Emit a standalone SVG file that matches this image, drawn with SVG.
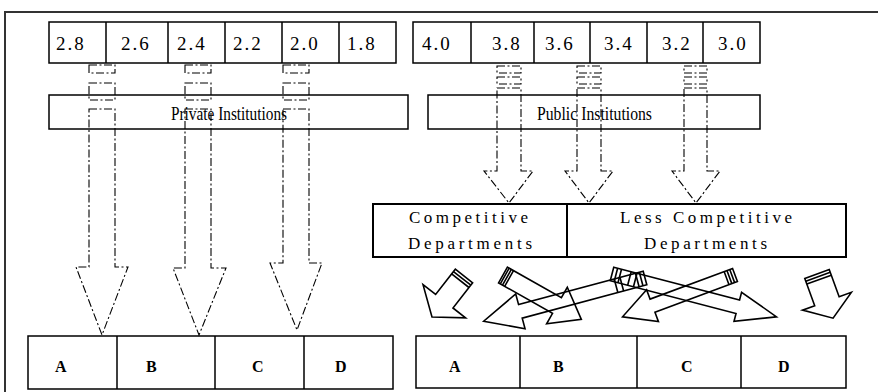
<svg xmlns="http://www.w3.org/2000/svg" width="878" height="392" viewBox="0 0 878 392">
<style>
.box{fill:#fff;stroke:#000;stroke-width:1.5}
.dbox{fill:#fff;stroke:#000;stroke-width:2}
text{font-family:'Liberation Serif','Times New Roman',Times,serif;fill:#000}
.num{font-size:19px;letter-spacing:2px}
.inst{font-size:18px}
.dept{font-size:17px}
.cat{font-size:16px;font-weight:bold}
.dash{fill:none;stroke:#000;stroke-width:1.1;stroke-dasharray:8 2.5 2 2.5}
.blk{fill:none;stroke:#000;stroke-width:1.6;stroke-linejoin:miter}
.stripe{stroke:#000;stroke-width:1.6}
</style>
<rect x="5" y="12" width="890" height="400" fill="none" stroke="#333" stroke-width="2"/>

<g id="private-scale">
<rect class="box" x="49" y="22" width="347" height="41"/>
<path d="M106 22V63M168 22V63M225 22V63M282 22V63M339 22V63" stroke="#000" stroke-width="1.5"/>
<text class="num" x="56" y="50">2.8</text>
<text class="num" x="121" y="50">2.6</text>
<text class="num" x="177" y="50">2.4</text>
<text class="num" x="233" y="50">2.2</text>
<text class="num" x="290" y="50">2.0</text>
<text class="num" x="347" y="50">1.8</text>
</g>

<g id="public-scale">
<rect class="box" x="413" y="22" width="347" height="41"/>
<path d="M471 22V63M534 22V63M590 22V63M647 22V63M703 22V63" stroke="#000" stroke-width="1.5"/>
<text class="num" x="422" y="50">4.0</text>
<text class="num" x="492" y="50">3.8</text>
<text class="num" x="545" y="50">3.6</text>
<text class="num" x="604" y="50">3.4</text>
<text class="num" x="662" y="50">3.2</text>
<text class="num" x="718" y="50">3.0</text>
</g>

<g id="private-institutions">
<rect class="box" x="49" y="95" width="359" height="34"/>
<text class="inst" x="171" y="120" textLength="116" lengthAdjust="spacingAndGlyphs">Private Institutions</text>
</g>

<g id="public-institutions">
<rect class="box" x="428" y="95" width="332" height="34"/>
<text class="inst" x="537" y="120" textLength="115" lengthAdjust="spacingAndGlyphs">Public Institutions</text>
</g>

<g id="competitive">
<rect class="dbox" x="373" y="204" width="194" height="53"/>
<text class="dept" x="409" y="223" textLength="119" lengthAdjust="spacing">Competitive</text>
<text class="dept" x="408" y="249" textLength="124" lengthAdjust="spacing">Departments</text>
</g>

<g id="less-competitive">
<rect class="dbox" x="567" y="204" width="279" height="53"/>
<text class="dept" x="620" y="223" textLength="172" lengthAdjust="spacing">Less Competitive</text>
<text class="dept" x="644" y="249" textLength="123" lengthAdjust="spacing">Departments</text>
</g>

<g id="private-grades">
<rect class="box" x="28" y="336" width="365" height="53"/>
<path d="M117 336V389M215 336V389M304 336V389" stroke="#000" stroke-width="1.5"/>
<text class="cat" x="55" y="372">A</text>
<text class="cat" x="146" y="372">B</text>
<text class="cat" x="252" y="372">C</text>
<text class="cat" x="335" y="372">D</text>
</g>

<g id="public-grades">
<rect class="box" x="416" y="336" width="430" height="52"/>
<path d="M520 336V388M637 336V388M741 336V388" stroke="#000" stroke-width="1.5"/>
<text class="cat" x="449" y="372">A</text>
<text class="cat" x="553" y="372">B</text>
<text class="cat" x="681" y="372">C</text>
<text class="cat" x="778" y="372">D</text>
</g>

<g id="connectors">
<rect class="dash" x="89" y="65" width="26" height="8"/>
<rect class="dash" x="89" y="83" width="26" height="17"/>
<polygon class="dash" points="89,109 115,109 115,267 128,267 102,335 76,267 89,267"/>
<rect class="dash" x="185" y="65" width="26" height="8"/>
<rect class="dash" x="185" y="83" width="26" height="17"/>
<polygon class="dash" points="185,109 211,109 211,268 226,268 199,335 173,268 185,268"/>
<rect class="dash" x="283" y="65" width="26" height="8"/>
<rect class="dash" x="283" y="83" width="26" height="17"/>
<polygon class="dash" points="283,109 309,109 309,263 322,263 297,330 270,263 283,263"/>
<rect class="dash" x="497" y="66" width="24" height="7"/>
<rect class="dash" x="497" y="77" width="24" height="7"/>
<polygon class="dash" points="497,88 521,88 521,171 533,171 509,203 484,171 497,171"/>
<rect class="dash" x="577" y="66" width="24" height="7"/>
<rect class="dash" x="577" y="77" width="24" height="7"/>
<polygon class="dash" points="577,88 601,88 601,171 613,171 589,203 565,171 577,171"/>
<rect class="dash" x="684" y="66" width="23" height="7"/>
<rect class="dash" x="684" y="77" width="23" height="7"/>
<polygon class="dash" points="684,88 707,88 707,171 720,171 696,203 672,171 684,171"/>
<g transform="translate(464,276) rotate(128)">
<polygon class="blk" points="0,-11 32,-11 32,-27 52,0 32,27 32,11 0,11"/>
<path class="stripe" d="M3-11V11M6-11V11"/>
</g>
<g transform="translate(503,275) rotate(29.5)">
<polygon class="blk" points="0,-9 62,-9 62,-21 90,0 62,21 62,9 0,9"/>
<path class="stripe" d="M2-9V9M4.5-9V9M7-9V9"/>
</g>
<g transform="translate(645,278) rotate(165)">
<polygon class="blk" points="0,-7 129,-7 129,-18 167,0 129,18 129,7 0,7"/>
<path class="stripe" d="M4-7V7M8-7V7M24-7V7M30-7V7"/>
</g>
<g transform="translate(735,275) rotate(159.6)">
<polygon class="blk" points="0,-7 88,-7 88,-17 120,0 88,17 88,7 0,7"/>
<path class="stripe" d="M3-7V7M6-7V7M9-7V7"/>
</g>
<g transform="translate(612,274) rotate(14.6)">
<polygon class="blk" points="0,-7 130,-7 130,-15 170,0 130,15 130,7 0,7"/>
<path class="stripe" d="M4-7V7M8-7V7M18-7V7M24-7V7"/>
</g>
<g transform="translate(817,274) rotate(70)">
<polygon class="blk" points="0,-13 29,-13 29,-26 47,0 29,26 29,13 0,13"/>
<path class="stripe" d="M3-13V13M6-13V13"/>
</g>
</g>
</svg>
